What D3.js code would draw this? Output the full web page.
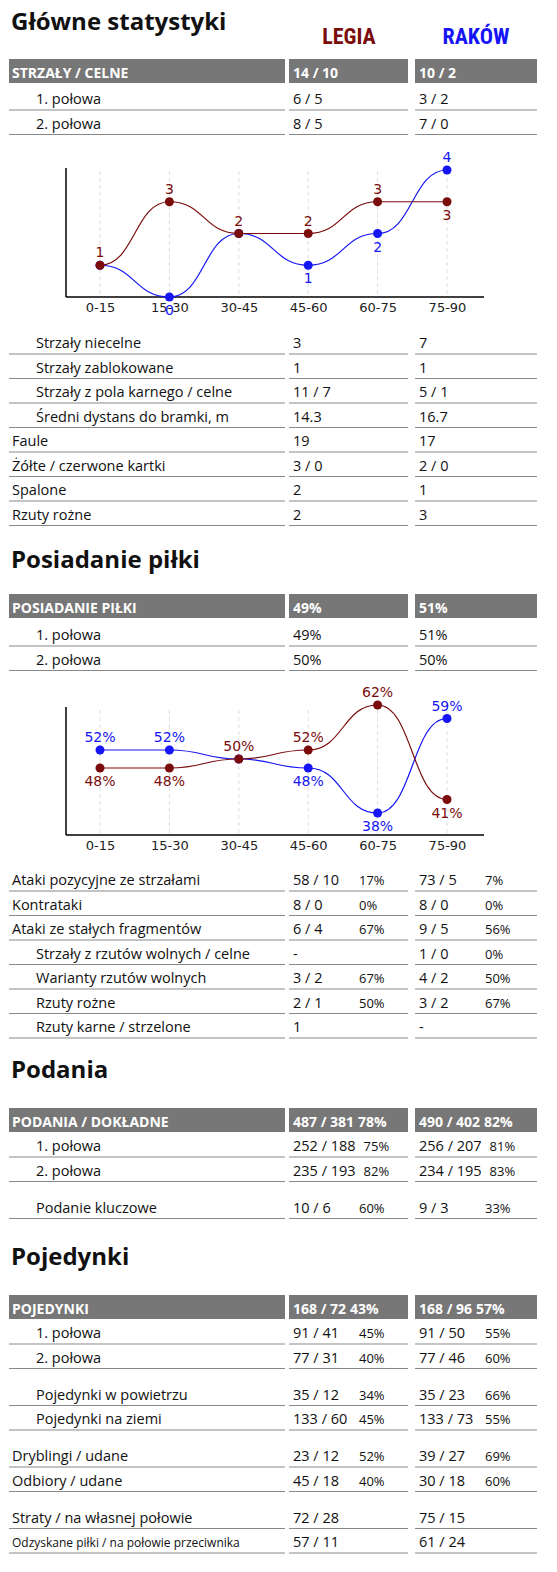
<!DOCTYPE html>
<html><head><meta charset="utf-8">
<script src="https://cdn.jsdelivr.net/npm/d3@7"></script>
<style>body{margin:0;background:#fff}</style>
</head><body>
<script>
var W = 557, H = 1572
var svg = d3.select("body").append("svg").attr("width", W).attr("height", H)
  .style("font-family", "'Open Sans', Lato, sans-serif")

var RED = "#7a0c0c", BLUE = "#1515f5"
var periods = ["0-15", "15-30", "30-45", "45-60", "60-75", "75-90"]
var shotsLegia = [1, 3, 2, 2, 3, 3]
var shotsRakow = [1, 0, 2, 1, 2, 4]
var possLegia = [48, 48, 50, 52, 62, 41]
var possRakow = [52, 52, 50, 48, 38, 59]

// rows: [label, legia, legia %, raków, raków %, indent]  null = gap
var shotsHead = ["STRZAŁY / CELNE", "14 / 10", "", "10 / 2", ""]
var shotsRows = [["1. połowa", "6 / 5", "", "3 / 2", "", 1], ["2. połowa", "8 / 5", "", "7 / 0", "", 1]]
var otherRows = [
  ["Strzały niecelne", "3", "", "7", "", 1],
  ["Strzały zablokowane", "1", "", "1", "", 1],
  ["Strzały z pola karnego / celne", "11 / 7", "", "5 / 1", "", 1],
  ["Średni dystans do bramki, m", "14.3", "", "16.7", "", 1],
  ["Faule", "19", "", "17", "", 0],
  ["Żółte / czerwone kartki", "3 / 0", "", "2 / 0", "", 0],
  ["Spalone", "2", "", "1", "", 0],
  ["Rzuty rożne", "2", "", "3", "", 0]]
var possHead = ["POSIADANIE PIŁKI", "49%", "", "51%", ""]
var possRows = [["1. połowa", "49%", "", "51%", "", 1], ["2. połowa", "50%", "", "50%", "", 1]]
var attackRows = [
  ["Ataki pozycyjne ze strzałami", "58 / 10", "17%", "73 / 5", "7%", 0],
  ["Kontrataki", "8 / 0", "0%", "8 / 0", "0%", 0],
  ["Ataki ze stałych fragmentów", "6 / 4", "67%", "9 / 5", "56%", 0],
  ["Strzały z rzutów wolnych / celne", "-", "", "1 / 0", "0%", 1],
  ["Warianty rzutów wolnych", "3 / 2", "67%", "4 / 2", "50%", 1],
  ["Rzuty rożne", "2 / 1", "50%", "3 / 2", "67%", 1],
  ["Rzuty karne / strzelone", "1", "", "-", "", 1]]
var passHead = ["PODANIA / DOKŁADNE", "487 / 381", "78%", "490 / 402", "82%"]
var passRows = [
  ["1. połowa", "252 / 188", "75%", "256 / 207", "81%", 1],
  ["2. połowa", "235 / 193", "82%", "234 / 195", "83%", 1],
  null,
  ["Podanie kluczowe", "10 / 6", "60%", "9 / 3", "33%", 1]]
var duelHead = ["POJEDYNKI", "168 / 72", "43%", "168 / 96", "57%"]
var duelRows = [
  ["1. połowa", "91 / 41", "45%", "91 / 50", "55%", 1],
  ["2. połowa", "77 / 31", "40%", "77 / 46", "60%", 1],
  null,
  ["Pojedynki w powietrzu", "35 / 12", "34%", "35 / 23", "66%", 1],
  ["Pojedynki na ziemi", "133 / 60", "45%", "133 / 73", "55%", 1],
  null,
  ["Dryblingi / udane", "23 / 12", "52%", "39 / 27", "69%", 0],
  ["Odbiory / udane", "45 / 18", "40%", "30 / 18", "60%", 0],
  null,
  ["Straty / na własnej połowie", "72 / 28", "", "75 / 15", "", 0],
  ["Odzyskane piłki / na połowie przeciwnika", "57 / 11", "", "61 / 24", "", 0]]

var cols = [{x: 9, w: 276}, {x: 289, w: 119}, {x: 415, w: 122}]
var pitch = 24.5

function title(t, y) {
  svg.append("text").attr("x", 11).attr("y", y).text(t)
    .style("font-size", "24px").style("font-weight", "bold").attr("fill", "#111")
}

function cell(g, c, y, v, pct, bold, size) {
  var t = g.append("text").attr("x", cols[c].x + 4).attr("y", y).text(v)
    .style("font-size", size).style("font-weight", bold ? "bold" : "normal")
  if (pct) {
    var end = cols[c].x + 4 + t.node().getComputedTextLength()
    g.append("text").attr("x", bold ? end + 4 : Math.max(end + 8, cols[c].x + 70)).attr("y", y).text(pct)
      .style("font-size", bold ? size : "13px").style("font-weight", bold ? "bold" : "normal")
  }
}

function header(h, cy) {
  var g = svg.append("g").attr("fill", "#fff")
  cols.forEach(function (c) {
    svg.insert("rect", "g").attr("x", c.x).attr("y", cy - 12).attr("width", c.w).attr("height", 24).attr("fill", "#777")
  })
  g.append("text").attr("x", 12).attr("y", cy + 7).text(h[0]).style("font-size", "14px").style("font-weight", "bold")
  cell(g, 1, cy + 7, h[1], h[2], true, "14px")
  cell(g, 2, cy + 7, h[3], h[4], true, "14px")
}

function rows(list, cy) {
  list.forEach(function (r) {
    if (!r) { cy += 12.5; return }
    var g = svg.append("g").attr("fill", "#111")
    var small = r[0].length > 35
    g.append("text").attr("x", r[5] ? 36 : 12).attr("y", cy + 5).text(r[0])
      .style("font-size", small ? "12px" : "14.5px")
    cell(g, 1, cy + 5, r[1], r[2], false, "14.5px")
    cell(g, 2, cy + 5, r[3], r[4], false, "14.5px")
    cols.forEach(function (c) {
      svg.append("line").attr("x1", c.x).attr("x2", c.x + c.w).attr("y1", cy + 11).attr("y2", cy + 11)
        .attr("stroke", "#888").attr("stroke-width", 1)
    })
    cy += pitch
  })
}

function chart(legia, rakow, yScale, top, bottom, fmt) {
  var x = d3.scalePoint().domain(periods).range([100, 447])
  var g = svg.append("g")
  g.selectAll(".grid").data(periods).join("line")
    .attr("x1", d => x(d)).attr("x2", d => x(d)).attr("y1", top + 3).attr("y2", bottom)
    .attr("stroke", "#ddd").attr("stroke-dasharray", "4,3")
  g.append("g").attr("transform", "translate(0," + bottom + ")")
    .call(d3.axisBottom(x).tickSize(0).tickPadding(6))
    .call(a => a.select(".domain").attr("d", "M66,0H484").attr("stroke", "#000").attr("stroke-width", 1.5))
    .call(a => a.selectAll("text").style("font-size", "13px").style("font-family", "'DejaVu Sans', sans-serif").attr("fill", "#222"))
  g.append("line").attr("x1", 66).attr("x2", 66).attr("y1", top).attr("y2", bottom).attr("stroke", "#000").attr("stroke-width", 1.5)
  var line = d3.line().x((d, i) => x(periods[i])).y(d => yScale(d)).curve(d3.curveBumpX)
  ;[[rakow, legia, BLUE, false], [legia, rakow, RED, true]].forEach(function (s) {
    var col = s[2]
    var pts = s[0].map((v, i) => ({p: periods[i], v: v, o: s[1][i]}))
    g.append("path").attr("d", line(s[0])).attr("fill", "none").attr("stroke", col).attr("stroke-width", 1.2)
    g.selectAll(null).data(pts).join("circle")
      .attr("cx", d => x(d.p)).attr("cy", d => yScale(d.v)).attr("r", 4.5).attr("fill", col)
    g.selectAll(null).data(pts.filter(d => s[3] || d.v !== d.o)).join("text")
      .attr("x", d => x(d.p)).attr("text-anchor", "middle")
      .attr("y", d => yScale(d.v) + (d.v >= d.o ? -8 : 18))
      .text(d => fmt(d.v)).attr("fill", col).style("font-size", "14px").style("font-family", "'DejaVu Sans', sans-serif")
  })
}

// team names
svg.append("text").attr("x", 349).attr("y", 44).attr("text-anchor", "middle").text("LEGIA")
  .attr("fill", RED).style("font-size", "22px").style("font-weight", "bold").style("font-family", "'Liberation Sans Narrow', Roboto, sans-serif").style("font-stretch", "condensed")
svg.append("text").attr("x", 476).attr("y", 44).attr("text-anchor", "middle").text("RAKÓW")
  .attr("fill", BLUE).style("font-size", "22px").style("font-weight", "bold").style("font-family", "'Liberation Sans Narrow', Roboto, sans-serif").style("font-stretch", "condensed")

title("Główne statystyki", 30)
header(shotsHead, 71)
rows(shotsRows, 99)
chart(shotsLegia, shotsRakow, d3.scaleLinear().domain([0, 4]).range([297, 170]), 168, 297, d => d)
rows(otherRows, 343)

title("Posiadanie piłki", 568)
header(possHead, 606)
rows(possRows, 635)
chart(possLegia, possRakow, d3.scaleLinear().domain([38, 62]).range([813, 705]), 707, 835, d => d + "%")
rows(attackRows, 880)

title("Podania", 1078)
header(passHead, 1120)
rows(passRows, 1146)

title("Pojedynki", 1265)
header(duelHead, 1307)
rows(duelRows, 1333)
</script>
</body></html>
